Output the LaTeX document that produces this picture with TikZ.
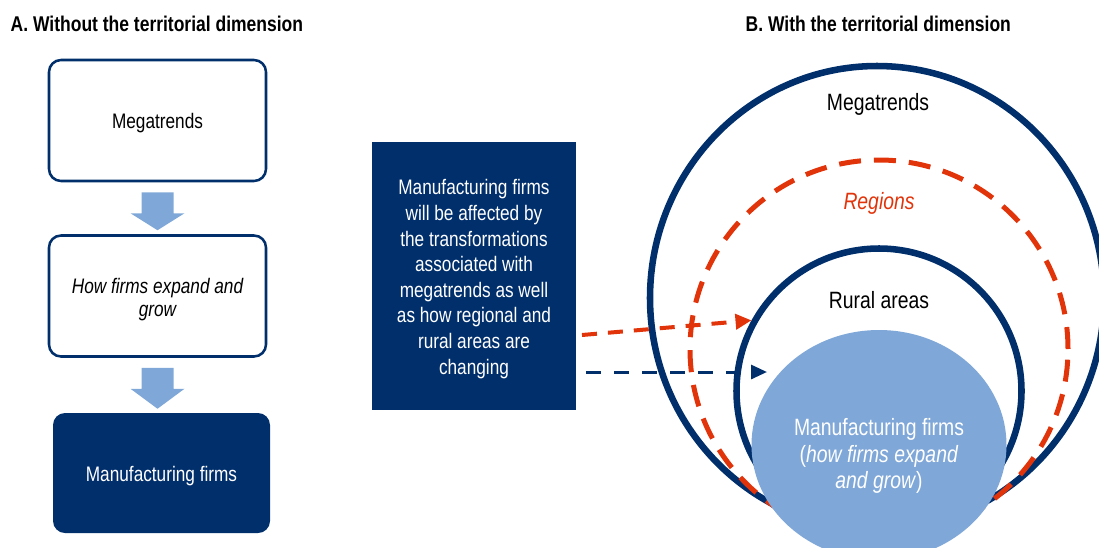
\documentclass[tikz,border=0pt]{standalone}
\usepackage{fontspec}
\setmainfont{Liberation Sans}[FakeStretch=0.82]
\usetikzlibrary{shapes.geometric,arrows.meta,calc}
\definecolor{navy}{RGB}{0,47,108}
\definecolor{sky}{RGB}{127,167,216}
\definecolor{flame}{RGB}{226,52,10}

\begin{document}
\begin{tikzpicture}[x=0.75pt,y=-0.75pt,
  title/.style={anchor=base west, font=\bfseries\fontsize{16}{19}\selectfont},
  stepbox/.style={draw=navy, line width=1.9pt, rounded corners=9pt,
    minimum width=162.75pt, minimum height=90.75pt, inner sep=0pt},
  firmbox/.style={fill=navy, rounded corners=9pt,
    minimum width=162.75pt, minimum height=90pt, inner sep=0pt},
  boxtext/.style={align=center, inner sep=0pt, font=\fontsize{15.75}{17.25}\selectfont},
  notebox/.style={fill=navy, minimum width=153pt, minimum height=201pt, inner sep=0pt},
  notetext/.style={text=white, align=center, inner sep=0pt,
    font=\fontsize{15.75}{19.2}\selectfont},
  ring/.style={ellipse, draw=navy, line width=4.9pt, inner sep=0pt},
  region/.style={ellipse, draw=flame, line width=3.75pt, inner sep=0pt,
    dash pattern=on 16.5pt off 9.75pt},
  circlabel/.style={font=\fontsize{17.7}{19.9}\selectfont, align=center, inner sep=0pt},
  blockarrow/.style={fill=sky},
  redlink/.style={draw=flame, line width=3pt, dash pattern=on 11.25pt off 8.25pt,
    -{Triangle[length=12pt,width=11.25pt]}},
  bluelink/.style={draw=navy, line width=2.25pt, dash pattern=on 11.25pt off 9.75pt,
    -{Triangle[length=12pt,width=10.5pt]}}
]
\useasboundingbox (0,0) rectangle (1099,547);
\clip (0,0) rectangle (1099,547);

% headings
\node[title] (titleA) at (6,31) {A. Without the territorial dimension};
\node[title] (titleB) at (741,31) {B. With the territorial dimension};

% panel A: linear chain
\node[stepbox] (mega) at (157.5,120.5) {};
\node[stepbox] (grow) at (157.5,296) {};
\node[firmbox] (firms) at (161.5,473) {};
\node[boxtext] (megatext) at ($(mega.center)+(0,3)$) {Megatrends};
\node[boxtext, font=\itshape\fontsize{15.75}{17.25}\selectfont] (growtext)
  at ($(grow.center)+(0,4)$) {How firms expand and\\grow};
\node[boxtext, text=white] (firmstext) at ($(firms.center)+(0,3)$) {Manufacturing firms};

\foreach \a/\b in {mega/grow, grow/firms}{
  \fill[blockarrow] ($(\a.south)+(-16,10)$) -- ($(\a.south)+(16,10)$)
    -- ($(\a.south)+(16,31)$) -- ($(\a.south)+(27,31)$)
    -- ($(\a.south |- \b.north)+(0,-4)$)
    -- ($(\a.south)+(-27,31)$) -- ($(\a.south)+(-16,31)$) -- cycle;
}

% explanatory note
\node[notebox] (note) at (474,276) {};
\node[notetext] (notetxt) at ($(note.center)+(0,3)$)
  {Manufacturing firms\\will be affected by\\the transformations\\associated with\\megatrends as well\\as how regional and\\rural areas are\\changing};

% panel B: nested territories
\node[ring, minimum width=340.5pt, minimum height=348pt] (outer) at (877,298) {};
\node[region, minimum width=283.5pt, minimum height=283.5pt] (regions) at (879,349) {};
\node[ring, minimum width=213.75pt, minimum height=213.75pt] (rural) at (879,391) {};
\node[ellipse, fill=sky, inner sep=0pt, minimum width=191.25pt, minimum height=172.5pt] (core) at (879,445) {};

\node[circlabel] (megalabel) at (878,104) {Megatrends};
\node[circlabel, text=flame, font=\itshape\fontsize{17.7}{19.9}\selectfont] (reglabel) at (879,203) {Regions};
\node[circlabel] (rurallabel) at (879,300) {Rural areas};
\node[circlabel, text=white] (corelabel) at (879,456)
  {Manufacturing firms\\(\textit{how firms expand}\\\textit{and grow})};

% links from the note into the territorial picture
\coordinate (redstart) at (582,335);
\coordinate (bluestart) at (586,372);
\coordinate (bluetip) at (767,372);
\draw[redlink] (redstart) -- (rural.151);
\draw[bluelink] (bluestart) -- (bluetip);
\end{tikzpicture}
\end{document}
